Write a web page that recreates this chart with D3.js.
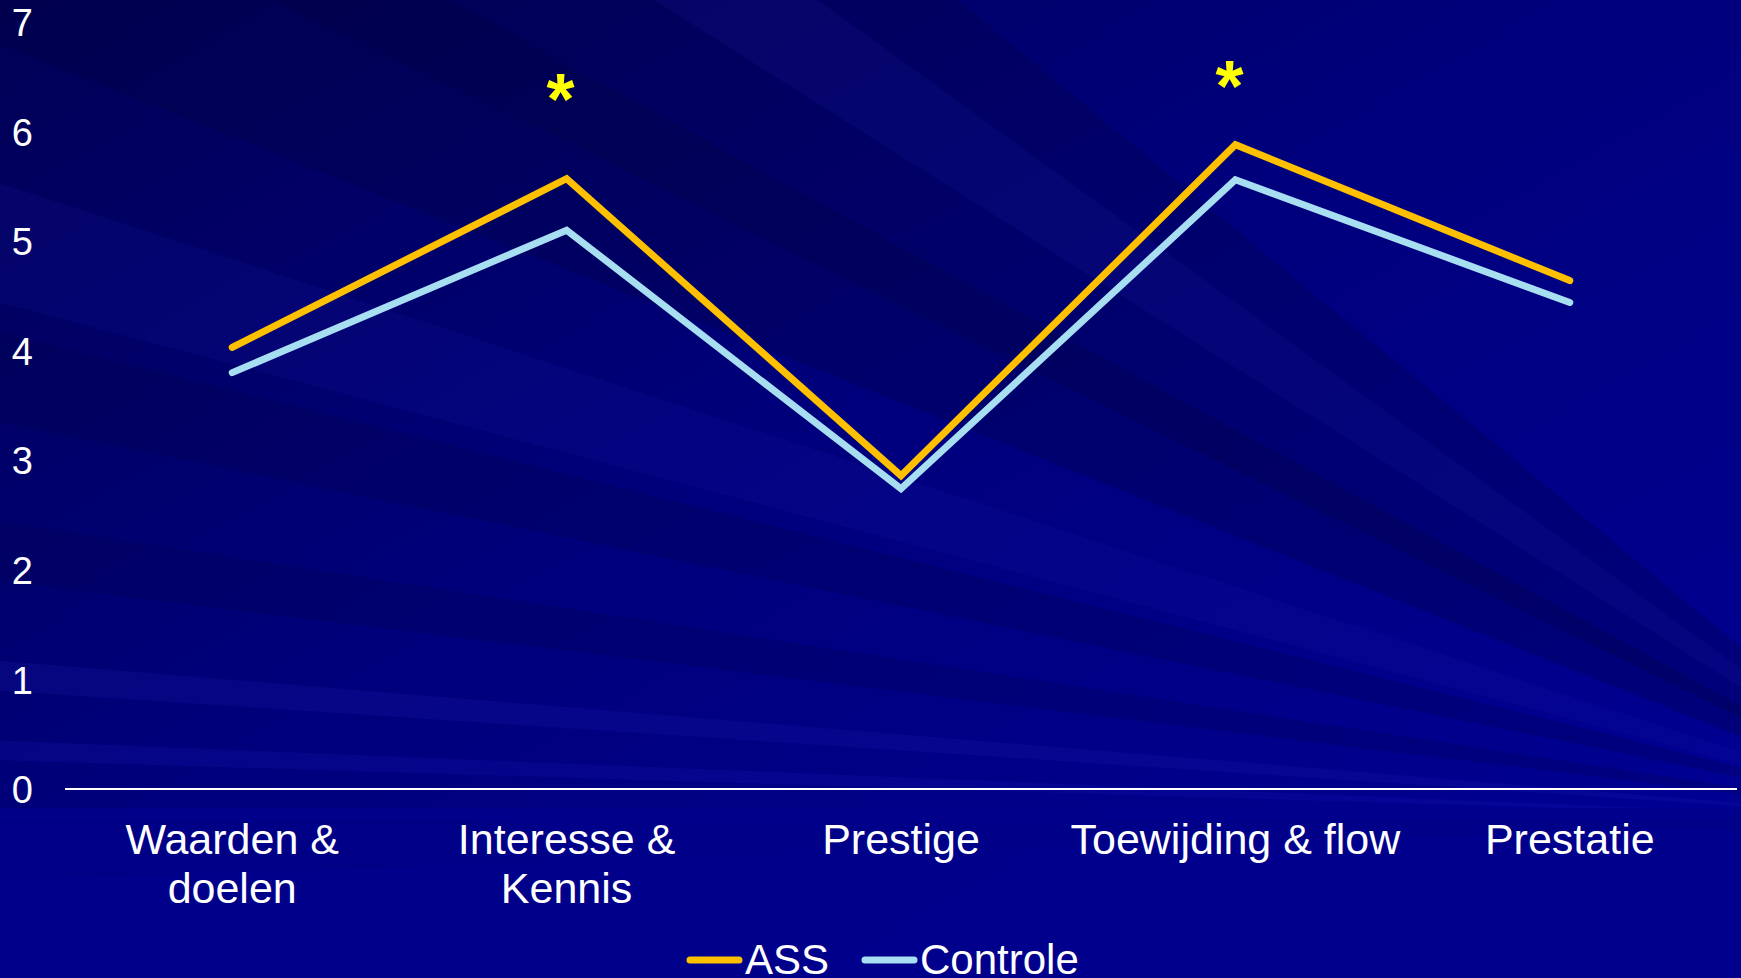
<!DOCTYPE html>
<html><head><meta charset="utf-8">
<script src="https://cdn.jsdelivr.net/npm/d3@7"></script>
<style>html,body{margin:0;padding:0;background:#00008b;overflow:hidden}svg{display:block}</style>
</head><body>
<svg id="chart" width="1741" height="978"></svg>
<script>
const categories = [["Waarden &","doelen"],["Interesse &","Kennis"],["Prestige"],["Toewijding & flow"],["Prestatie"]];
const seriesNames = ["ASS","Controle"];
const assValues = [4.03, 5.57, 2.86, 5.88, 4.64];
const controleValues = [3.80, 5.10, 2.74, 5.56, 4.44];
const yTicks = [0,1,2,3,4,5,6,7];
const significant = [1, 3];
const significanceLevel = [6.36, 6.48];
const seriesColors = ["#FFC000", "#A8DEF2"];

const W = 1741, H = 978;
const svg = d3.select("#chart");
const defs = svg.append("defs");
const bg = defs.append("linearGradient").attr("id","bg").attr("x1","0").attr("y1","0").attr("x2","1").attr("y2","1");
bg.append("stop").attr("offset","0").attr("stop-color","#000055");
bg.append("stop").attr("offset","0.45").attr("stop-color","#00007c");
bg.append("stop").attr("offset","1").attr("stop-color","#000096");
svg.append("rect").attr("width",W).attr("height",H).attr("fill","url(#bg)");

// decorative rays converging toward the lower right
const fx = 1950, fy = 820;
const rays = [
  {a:-140,b:-800,c:"#000040",o:0.25},
  {a:-420,b:-600,c:"#1a1aa0",o:0.18},
  {a:40,b:-250,c:"#00003a",o:0.25},
  {a:300,b:180,c:"#1a1ab0",o:0.15},
  {a:420,b:330,c:"#000045",o:0.22},
  {a:580,b:520,c:"#00004a",o:0.22},
  {a:690,b:660,c:"#2020b8",o:0.18},
  {a:760,b:740,c:"#1515b0",o:0.25},
  {a:880,b:820,c:"#00003a",o:0.25}
];
rays.forEach(r=>{
  svg.append("path").attr("d",`M${fx},${fy} L-10,${r.a} L-10,${r.b} Z`).attr("fill",r.c).attr("opacity",r.o);
});
svg.append("rect").attr("x",0).attr("y",808).attr("width",W).attr("height",170).attr("fill","#00008c").attr("opacity",0.85);

const x = d3.scaleBand().domain(d3.range(categories.length)).range([65,1737]);
const y = d3.scaleLinear().domain([0,7]).range([789,22]);
const font = "'Liberation Sans', Arial, sans-serif";

// y tick labels
const yAxis = d3.axisLeft(y).tickValues(yTicks).tickSize(0).tickPadding(0).tickFormat(d3.format("d"));
const gy = svg.append("g").attr("transform","translate(33,0)").call(yAxis);
gy.select(".domain").remove();
gy.selectAll("text").attr("fill","#fff").attr("font-family",font).attr("font-size",38).attr("dy","0.36em");

// x axis line
svg.append("line").attr("x1",65).attr("x2",1737).attr("y1",y(0)).attr("y2",y(0)).attr("stroke","#fff").attr("stroke-width",2);

// category labels
const cx = i => x(i) + x.bandwidth()/2;
categories.forEach((lines,i)=>{
  const t = svg.append("text").attr("text-anchor","middle").attr("fill","#fff")
    .attr("font-family",font).attr("font-size",43);
  lines.forEach((l,j)=>t.append("tspan").attr("x",cx(i)).attr("y",854 + j*49).text(l));
});

// lines
const line = d3.line().x((d,i)=>cx(i)).y(d=>y(d));
[assValues, controleValues].forEach((vals,k)=>{
  svg.append("path").datum(vals).attr("d",line).attr("fill","none")
    .attr("stroke",seriesColors[k]).attr("stroke-width",7)
    .attr("stroke-linejoin","miter").attr("stroke-linecap","round");
});

// significance asterisks
significant.forEach((i,k)=>{
  svg.append("text").attr("x",cx(i)-6).attr("y",y(significanceLevel[k]) + 32)
    .attr("text-anchor","middle").attr("fill","#FFFF00").attr("font-weight","bold")
    .attr("font-family",font).attr("font-size",72).text("*");
});

// legend
const legendItems = [{x:687, name:seriesNames[0], c:seriesColors[0]},{x:862, name:seriesNames[1], c:seriesColors[1]}];
legendItems.forEach(it=>{
  svg.append("line").attr("x1",it.x+3).attr("x2",it.x+52).attr("y1",960).attr("y2",960)
    .attr("stroke",it.c).attr("stroke-width",7).attr("stroke-linecap","round");
  svg.append("text").attr("x",it.x+58).attr("y",974).attr("fill","#fff")
    .attr("font-family",font).attr("font-size",42).text(it.name);
});
</script>
</body></html>
